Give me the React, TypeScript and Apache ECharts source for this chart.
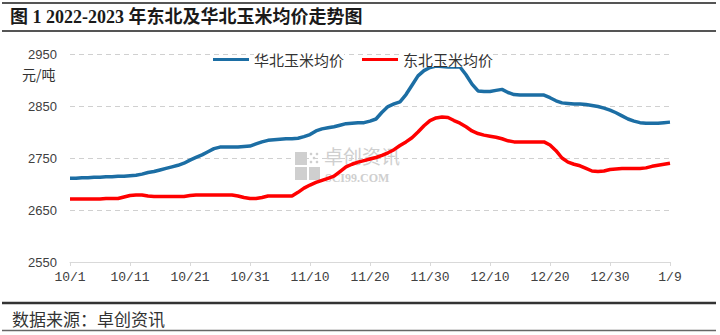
import React, { useEffect, useRef } from "react";
import * as echarts from "echarts";

// Categories: daily dates 10/1/2022 .. 1/9/2023
const START = new Date(2022, 9, 1);
const DAY_COUNT = 101;
const categories: string[] = [];
for (let i = 0; i < DAY_COUNT; i++) {
  const d = new Date(START.getTime() + i * 86400000);
  categories.push(`${d.getMonth() + 1}/${d.getDate()}`);
}

// 华北玉米均价 (元/吨)
const northChina: number[] = [
  2711, 2711, 2712, 2712, 2713, 2713, 2714, 2714, 2715, 2715,
  2716, 2717, 2719, 2722, 2724, 2727, 2730, 2733, 2736, 2740,
  2746, 2751, 2756, 2762, 2768, 2771, 2771, 2771, 2771, 2772,
  2773, 2777, 2781, 2784, 2785, 2786, 2787, 2787, 2788, 2791,
  2795, 2802, 2806, 2808, 2810, 2813, 2816, 2817, 2818, 2818,
  2821, 2825, 2838, 2849, 2854, 2858, 2872, 2890, 2908, 2918,
  2924, 2927, 2926, 2925, 2925, 2925, 2910, 2892, 2879, 2878,
  2878, 2880, 2882, 2876, 2872, 2871, 2871, 2871, 2871, 2871,
  2866, 2860, 2856, 2855, 2854, 2854, 2853, 2851, 2849, 2846,
  2842, 2837, 2831, 2825, 2821, 2818, 2817, 2817, 2817, 2818,
  2819,
];

// 东北玉米均价 (元/吨)
const northeast: number[] = [
  2671, 2671, 2671, 2671, 2671, 2671, 2672, 2672, 2672, 2675,
  2678, 2679, 2679, 2677, 2676, 2676, 2676, 2676, 2676, 2676,
  2678, 2679, 2679, 2679, 2679, 2679, 2679, 2679, 2677, 2674,
  2672, 2672, 2674, 2677, 2677, 2677, 2677, 2677, 2684, 2692,
  2698, 2703, 2707, 2711, 2715, 2724, 2733, 2738, 2742, 2745,
  2748, 2751, 2755, 2760, 2766, 2774, 2781, 2789, 2800, 2812,
  2822, 2827, 2829, 2828, 2822, 2817, 2810, 2802, 2797, 2794,
  2792, 2790, 2787, 2783, 2781, 2781, 2781, 2781, 2781, 2781,
  2775, 2764, 2750, 2742, 2738, 2735, 2730, 2725, 2724, 2725,
  2728, 2729, 2730, 2730, 2730, 2730, 2731, 2734, 2736, 2738,
  2740,
];

const seriesNames = ["华北玉米均价", "东北玉米均价"];
const Y_MIN = 2550;
const Y_MAX = 2950;
const Y_STEP = 100;

const CJK = "Noto Sans CJK SC";

export default function App() {
  const ref = useRef<HTMLDivElement>(null);

  useEffect(() => {
    if (!ref.current) return;
    const chart = echarts.init(ref.current, null, { renderer: "svg" });
    const wm = "#cfcfcf";
    chart.setOption({
      animation: false,
      backgroundColor: "#ffffff",
      grid: { left: 70, right: 50, top: 54, bottom: 73, containLabel: false },
      legend: {
        data: seriesNames,
        left: 208,
        top: 47,
        icon: "rect",
        itemWidth: 36,
        itemHeight: 3,
        itemGap: 18,
        textStyle: {
          fontFamily: CJK,
          fontSize: 15,
          color: "#333333",
          backgroundColor: "#ffffff",
        },
      },
      xAxis: {
        type: "category",
        data: categories,
        boundaryGap: false,
        axisLine: { lineStyle: { color: "#d9d9d9", width: 1 } },
        axisTick: { interval: 9, length: 4, lineStyle: { color: "#d9d9d9" } },
        axisLabel: {
          interval: 9,
          margin: 9,
          fontFamily: "Liberation Mono",
          fontSize: 13,
          color: "#404040",
        },
        splitLine: { show: false },
      },
      yAxis: {
        type: "value",
        min: Y_MIN,
        max: Y_MAX,
        interval: Y_STEP,
        axisLine: { show: false },
        axisTick: { show: false },
        axisLabel: {
          margin: 13,
          fontFamily: "Liberation Sans",
          fontSize: 13,
          color: "#404040",
          formatter: (v: number) => String(v),
        },
        splitLine: { lineStyle: { color: "#d0d0d0", type: [5, 4], width: 1 } },
      },
      series: [
        {
          name: seriesNames[0],
          type: "line",
          data: northChina,
          showSymbol: false,
          lineStyle: { color: "#1c6ea4", width: 3.5 },
          itemStyle: { color: "#1c6ea4" },
          z: 3,
        },
        {
          name: seriesNames[1],
          type: "line",
          data: northeast,
          showSymbol: false,
          lineStyle: { color: "#ff0000", width: 3.5 },
          itemStyle: { color: "#ff0000" },
          z: 3,
        },
      ],
      graphic: [
        // top rules
        { type: "line", shape: { x1: 2, y1: 3, x2: 716, y2: 3 }, style: { stroke: "#555555", lineWidth: 2 }, z: 10 },
        { type: "line", shape: { x1: 2, y1: 31, x2: 716, y2: 31 }, style: { stroke: "#555555", lineWidth: 2 }, z: 10 },
        {
          type: "text",
          left: 10,
          top: 8,
          style: {
            text: "图 1 2022-2023 年东北及华北玉米均价走势图",
            font: `bold 18px "Liberation Serif", "${CJK}"`,
            fill: "#1a1a1a",
          },
          z: 10,
        },
        // y unit
        {
          type: "text",
          left: 22,
          top: 67,
          style: { text: "元/吨", font: `14px "${CJK}"`, fill: "#333333" },
          z: 10,
        },
        // watermark
        { type: "rect", shape: { x: 295, y: 152, width: 12, height: 13 }, style: { fill: wm }, z: 1 },
        { type: "rect", shape: { x: 295, y: 167, width: 12, height: 13 }, style: { fill: wm }, z: 1 },
        { type: "rect", shape: { x: 309, y: 167, width: 11, height: 13 }, style: { fill: wm }, z: 1 },
        { type: "circle", shape: { cx: 311, cy: 154, r: 1.3 }, style: { fill: wm }, z: 1 },
        { type: "circle", shape: { cx: 317, cy: 154, r: 1.3 }, style: { fill: wm }, z: 1 },
        { type: "circle", shape: { cx: 314, cy: 158, r: 1.3 }, style: { fill: wm }, z: 1 },
        { type: "circle", shape: { cx: 311, cy: 162, r: 1.3 }, style: { fill: wm }, z: 1 },
        { type: "circle", shape: { cx: 317, cy: 162, r: 1.3 }, style: { fill: wm }, z: 1 },
        {
          type: "text",
          left: 324,
          top: 146,
          style: { text: "卓创资讯", font: `19px "${CJK}"`, fill: wm },
          z: 1,
        },
        {
          type: "text",
          left: 325,
          top: 172,
          style: { text: "SCI99.COM", font: `bold 12px "Liberation Serif"`, fill: wm },
          z: 1,
        },
        // bottom rules and source
        { type: "line", shape: { x1: 2, y1: 303, x2: 716, y2: 303 }, style: { stroke: "#333333", lineWidth: 2.5 }, z: 10 },
        { type: "line", shape: { x1: 2, y1: 330.5, x2: 716, y2: 330.5 }, style: { stroke: "#666666", lineWidth: 1.5 }, z: 10 },
        {
          type: "text",
          left: 12,
          top: 310,
          style: { text: "数据来源：卓创资讯", font: `17px "${CJK}"`, fill: "#333333" },
          z: 10,
        },
      ],
    });
    return () => chart.dispose();
  }, []);

  return (
    <div
      ref={ref}
      style={{ position: "fixed", left: 0, top: 0, width: 720, height: 335 }}
    />
  );
}
